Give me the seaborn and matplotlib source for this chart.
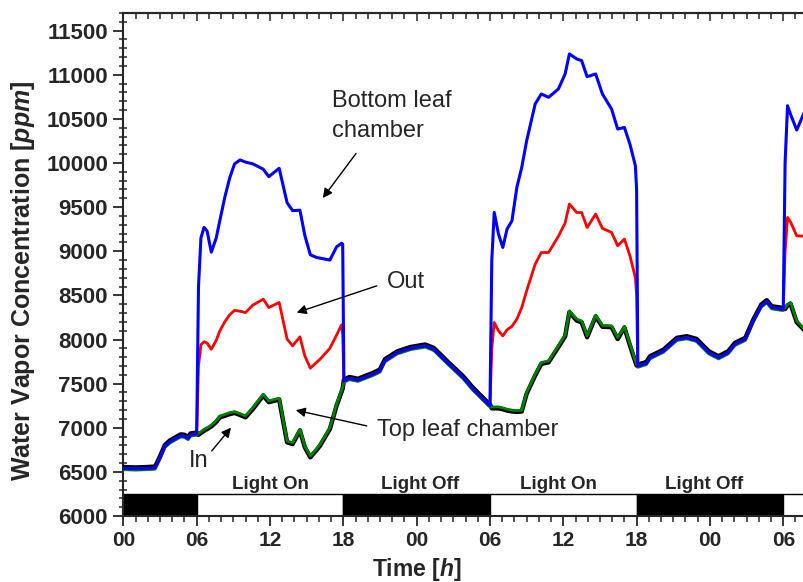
import numpy as np
import pandas as pd
import matplotlib
matplotlib.use("Agg")
import matplotlib.pyplot as plt
import seaborn as sns

# --- data (hours, ppm) ---
# dark 1 (0-6 h)
hours_d1 = [0.0, 1.0, 2.0, 2.6, 3.0, 3.4, 3.8, 4.3, 4.7, 5.0, 5.3, 5.5, 6.0]
in_d1 = [6555, 6550, 6555, 6560, 6675, 6805, 6855, 6895, 6925, 6920, 6895, 6935, 6945]
top_d1 = [6525, 6520, 6525, 6530, 6645, 6775, 6825, 6865, 6895, 6890, 6865, 6905, 6915]
out_d1 = [6540, 6535, 6540, 6545, 6660, 6790, 6840, 6880, 6910, 6905, 6880, 6920, 6930]
bot_d1 = [6540, 6535, 6540, 6545, 6660, 6790, 6840, 6880, 6910, 6905, 6880, 6920, 6930]

# light 1 (6-18 h)
hours_l1 = [6.15, 6.35, 6.6, 6.85, 7.2, 7.6, 7.9, 8.3, 8.7, 9.1, 9.55, 10.0, 10.6, 11.45,
            11.9, 12.75, 13.4, 13.85, 14.45, 14.85, 15.3, 15.8, 16.1, 16.9, 17.45, 17.85, 17.95]
in_l1 = [6920, 6940, 6965, 6985, 7015, 7065, 7118, 7135, 7155, 7168, 7145, 7118, 7212, 7365,
         7290, 7320, 6835, 6815, 6968, 6780, 6665, 6745, 6798, 6985, 7250, 7405, 7445]
top_l1 = [6935, 6955, 6980, 7000, 7030, 7080, 7134, 7150, 7171, 7183, 7160, 7134, 7228, 7380,
          7304, 7335, 6850, 6831, 6983, 6794, 6680, 6760, 6813, 7001, 7267, 7420, 7460]
out_l1 = [7700, 7940, 7975, 7960, 7890, 7990, 8100, 8200, 8280, 8330, 8320, 8305, 8390, 8457,
          8362, 8420, 8004, 7928, 8030, 7814, 7675, 7740, 7777, 7900, 8050, 8166, 8050]
bot_l1 = [8600, 9150, 9270, 9230, 8990, 9150, 9350, 9610, 9830, 9990, 10035, 10010, 9990, 9930,
          9845, 9940, 9550, 9460, 9465, 9180, 8960, 8930, 8922, 8900, 9050, 9090, 9080]

# dark 2 (18-30 h)
hours_d2 = [18.05, 18.5, 19.2, 20.4, 21.0, 21.4, 22.4, 23.5, 24.7, 25.4, 26.5, 27.8, 28.6, 29.9, 30.0]
in_d2 = [7545, 7575, 7555, 7620, 7660, 7775, 7865, 7915, 7943, 7905, 7755, 7585, 7455, 7275, 7265]
top_d2 = [7515, 7545, 7525, 7590, 7630, 7745, 7835, 7885, 7913, 7875, 7725, 7555, 7425, 7245, 7235]
out_d2 = [7530, 7560, 7540, 7605, 7645, 7760, 7850, 7900, 7928, 7890, 7740, 7570, 7440, 7260, 7250]
bot_d2 = [7530, 7560, 7540, 7605, 7645, 7760, 7850, 7900, 7928, 7890, 7740, 7570, 7440, 7260, 7250]

# light 2 (30-42 h)
hours_l2 = [30.15, 30.35, 30.7, 31.05, 31.4, 31.8, 32.2, 32.6, 33.0, 33.7, 34.2, 34.8, 35.6,
            36.15, 36.5, 37.1, 37.5, 37.95, 38.65, 39.2, 39.95, 40.45, 41.0, 41.45, 41.9, 42.0]
in_l2 = [7220, 7220, 7220, 7210, 7195, 7185, 7180, 7184, 7385, 7592, 7724, 7742, 7915,
         8035, 8310, 8215, 8195, 8026, 8260, 8145, 8140, 8006, 8135, 7935, 7745, 7705]
top_l2 = [7235, 7236, 7236, 7225, 7210, 7200, 7195, 7199, 7400, 7607, 7739, 7758, 7930,
          8050, 8325, 8230, 8211, 8041, 8276, 8160, 8155, 8022, 8150, 7950, 7760, 7720]
out_l2 = [7900, 8192, 8098, 8041, 8110, 8150, 8230, 8362, 8551, 8854, 8986, 8986, 9170,
          9320, 9535, 9439, 9439, 9269, 9421, 9260, 9213, 9062, 9138, 8950, 8700, 8500]
bot_l2 = [8900, 9440, 9194, 9043, 9251, 9345, 9723, 9950, 10250, 10669, 10782, 10744, 10839,
          11009, 11236, 11179, 11160, 10978, 11009, 10782, 10612, 10385, 10403, 10215, 9969, 9700]

# dark 3 (42-54 h)
hours_d3 = [42.1, 42.8, 43.1, 44.2, 45.3, 46.1, 46.9, 47.9, 48.7, 49.5, 50.05, 50.9, 51.55,
            52.2, 52.65, 53.05, 53.9, 54.0]
in_d3 = [7715, 7745, 7810, 7885, 8019, 8037, 8007, 7867, 7810, 7867, 7962, 8019, 8226,
         8396, 8445, 8377, 8359, 8359]
top_d3 = [7685, 7715, 7780, 7855, 7989, 8007, 7977, 7837, 7780, 7837, 7932, 7989, 8196,
          8366, 8415, 8347, 8329, 8329]
out_d3 = [7700, 7730, 7795, 7870, 8004, 8022, 7992, 7852, 7795, 7852, 7947, 8004, 8211,
          8381, 8430, 8362, 8344, 8344]
bot_d3 = [7700, 7730, 7795, 7870, 8004, 8022, 7992, 7852, 7795, 7852, 7947, 8004, 8211,
          8381, 8430, 8362, 8344, 8344]

# light 3 (54 h -)
hours_l3 = [54.15, 54.35, 54.6, 55.1, 55.8]
in_l3 = [8345, 8385, 8404, 8196, 8095]
top_l3 = [8360, 8400, 8419, 8211, 8110]
out_l3 = [9000, 9383, 9330, 9175, 9170]
bot_l3 = [10000, 10649, 10550, 10374, 10600]

hours = hours_d1 + hours_l1 + hours_d2 + hours_l2 + hours_d3 + hours_l3
series = {
    "In": in_d1 + in_l1 + in_d2 + in_l2 + in_d3 + in_l3,
    "Top": top_d1 + top_l1 + top_d2 + top_l2 + top_d3 + top_l3,
    "Out": out_d1 + out_l1 + out_d2 + out_l2 + out_d3 + out_l3,
    "Bottom": bot_d1 + bot_l1 + bot_d2 + bot_l2 + bot_d3 + bot_l3,
}

# light schedule bar
light_start = [0, 6, 18, 30, 42, 54]
light_len = [6, 12, 12, 12, 12, 12]
light_on = [False, True, False, True, False, True]
light_labels = ["Light On", "Light Off", "Light On", "Light Off"]
light_label_x = [12.0, 24.3, 35.6, 47.5]

tick_pos = [0, 6, 12, 18, 24, 30, 36, 42, 48, 54]
tick_lab = ["00", "06", "12", "18", "00", "06", "12", "18", "00", "06"]

# --- style ---
sns.set_style("ticks")
plt.rcParams["font.family"] = ["Liberation Sans", "DejaVu Sans"]
plt.rcParams["mathtext.fontset"] = "custom"
plt.rcParams["mathtext.it"] = "Liberation Sans:italic:bold"
plt.rcParams["mathtext.rm"] = "Liberation Sans:bold"

fig = plt.figure(figsize=(8.04, 5.82), dpi=100)
ax = fig.add_axes([0.1534, 0.1134, 0.8512, 0.8643])

df = pd.DataFrame({"hours": hours, **series}).melt(id_vars="hours", var_name="series", value_name="ppm")

colors = {"In": "black", "Top": "#008000", "Out": "red", "Bottom": "blue"}
widths = {"In": 3.2, "Top": 2.0, "Out": 2.0, "Bottom": 2.2}
for name in ["In", "Top", "Out", "Bottom"]:
    sns.lineplot(data=df[df["series"] == name], x="hours", y="ppm", color=colors[name],
                 linewidth=widths[name], sort=False, estimator=None, ax=ax, zorder=3)

# light on/off bar
ax.bar(light_start, 250, width=light_len, bottom=6000, align="edge",
       color=["white" if on else "black" for on in light_on], edgecolor="black",
       linewidth=1.0, zorder=2)
for lab, x in zip(light_labels, light_label_x):
    ax.text(x, 6303, lab, ha="center", va="baseline", fontsize=13.5, fontweight="bold")

# annotations
arrow = dict(arrowstyle="-|>", color="black", lw=1.0, mutation_scale=14, shrinkA=0, shrinkB=0)
ax.annotate("", xy=(16.32, 9603), xytext=(19.04, 10108), arrowprops=arrow)
ax.annotate("", xy=(14.19, 8305), xytext=(20.74, 8608), arrowprops=arrow)
ax.annotate("", xy=(14.11, 7199), xytext=(19.92, 7021), arrowprops=arrow)
ax.annotate("", xy=(8.81, 7001), xytext=(7.23, 6737), arrowprops=arrow)
ax.text(17.08, 10630, "Bottom leaf", fontsize=17, va="baseline")
ax.text(17.08, 10290, "chamber", fontsize=17, va="baseline")
ax.text(21.55, 8578, "Out", fontsize=17, va="baseline")
ax.text(20.74, 6907, "Top leaf chamber", fontsize=17, va="baseline")
ax.text(5.35, 6556, "In", fontsize=17, va="baseline")

# axes
ax.set_xlim(0, 56)
ax.set_ylim(6000, 11700)
ax.set_xticks(tick_pos)
ax.set_xticklabels(tick_lab)
ax.set_xticks(np.arange(0, 57, 1), minor=True)
ax.set_yticks(np.arange(6000, 11501, 500))
ax.set_yticks(np.arange(6000, 11701, 100), minor=True)
ax.tick_params(axis="both", which="major", direction="out", length=7, width=1.3, pad=4)
ax.tick_params(axis="x", which="major", labelsize=15)
ax.tick_params(axis="y", which="major", labelsize=16)
ax.tick_params(axis="x", which="minor", direction="out", length=4, width=1.1)
ax.tick_params(axis="y", which="minor", direction="inout", length=6, width=1.1)
for lab in ax.get_xticklabels() + ax.get_yticklabels():
    lab.set_fontweight("bold")
for sp in ax.spines.values():
    sp.set_linewidth(1.5)

# ticks along the top edge point inward
top_ax = ax.secondary_xaxis("top")
top_ax.set_xticks(tick_pos)
top_ax.set_xticks(np.arange(0, 57, 1), minor=True)
top_ax.tick_params(axis="x", which="both", direction="in", labeltop=False, width=1.1)
top_ax.tick_params(axis="x", which="major", length=6)
top_ax.tick_params(axis="x", which="minor", length=4)
top_ax.spines["top"].set_linewidth(1.5)

ax.set_xlabel(r"Time [$\mathit{h}$]", fontsize=16.5, fontweight="bold")
ax.set_ylabel(r"Water Vapor Concentration [$\mathit{ppm}$]", fontsize=18, fontweight="bold")
ax.xaxis.label.set_verticalalignment("center")
ax.yaxis.label.set_verticalalignment("center")
ax.xaxis.set_label_coords(0.429, -0.107)
ax.yaxis.set_label_coords(-0.146, 0.467)

fig.savefig("out.png", dpi=100)
